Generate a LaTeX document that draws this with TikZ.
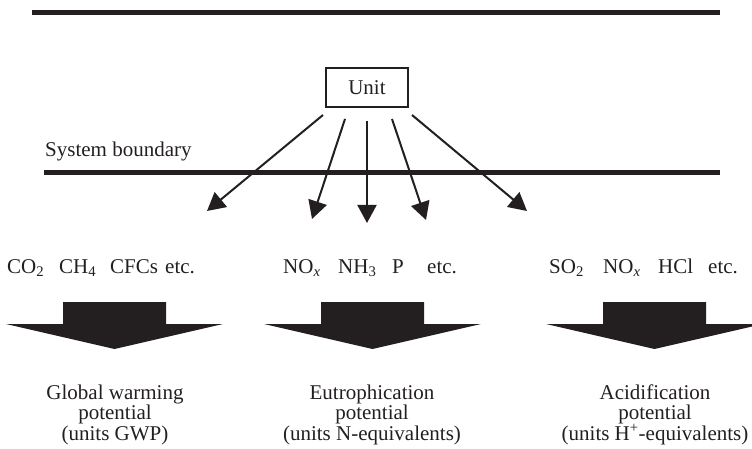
\documentclass[tikz,border=0pt]{standalone}
\usepackage{fontspec}
\setmainfont{Liberation Serif}
\usetikzlibrary{arrows.meta}
\definecolor{ink}{RGB}{35,31,32}
\begin{document}
\begin{tikzpicture}[x=1pt,y=-1pt,
  txt/.style={text=ink, inner sep=0pt, font=\fontsize{21}{20.5}\selectfont},
  chem/.style={txt, anchor=base west},
  impact/.style={txt, align=center, anchor=base},
  rule/.style={draw=ink, line width=5pt},
  flow/.style={draw=ink, line width=2pt, -{Triangle[length=18pt,width=19pt]}},
  unitbox/.style={draw=ink, line width=2pt, minimum width=82pt, minimum height=39pt, inner sep=0pt, txt},
  bigarrow/.pic={
    \fill[ink] (-51.5,302) -- (51.5,302) -- (51.5,324) -- (108.5,324)
      -- (0,349) -- (-108.5,324) -- (-51.5,324) -- cycle;
  }]
\clip (0,0) rectangle (752,449);

% outer frame line and system boundary
\coordinate (topL) at (32,12.5);
\coordinate (topR) at (720,12.5);
\draw[rule] (topL) -- (topR);
\coordinate (sbL) at (44,172.5);
\coordinate (sbR) at (720,172.5);
\draw[rule] (sbL) -- (sbR);
\node[txt, anchor=base west] (sblabel) at (45,157) {System boundary};

% the unit process
\node[unitbox] (unit) at (367,87.5) {Unit};

% emission arrows
\coordinate (t1) at (207,211);
\coordinate (t2) at (312,219);
\coordinate (t3) at (367,223);
\coordinate (t4) at (426,220);
\coordinate (t5) at (527,211);
\draw[flow] ([shift={(-44,7)}]unit.south) -- (t1);
\draw[flow] ([shift={(-22,11)}]unit.south) -- (t2);
\draw[flow] ([shift={(0,13)}]unit.south) -- (t3);
\draw[flow] ([shift={(25,11)}]unit.south) -- (t4);
\draw[flow] ([shift={(45,7)}]unit.south) -- (t5);

% emitted substances
\node[chem] (co2) at (7,273) {CO\textsubscript{2}};
\node[chem] (ch4) at (59,273) {CH\textsubscript{4}};
\node[chem] (cfc) at (110,273) {CFCs};
\node[chem] (etcA) at (165,273) {etc.};
\node[chem] (noxA) at (283,273) {NO\textsubscript{\textit{x}}};
\node[chem] (nh3) at (338,273) {NH\textsubscript{3}};
\node[chem] (p) at (392,273) {P};
\node[chem] (etcB) at (427,273) {etc.};
\node[chem] (so2) at (549,273) {SO\textsubscript{2}};
\node[chem] (noxB) at (603,273) {NO\textsubscript{\textit{x}}};
\node[chem] (hcl) at (658,273) {HCl};
\node[chem] (etcC) at (708,273) {etc.};

% aggregation arrows
\pic at (114.5,0) {bigarrow};
\pic at (372.5,0) {bigarrow};
\pic at (654.5,0) {bigarrow};

% impact categories (base anchor sits on the last line)
\node[impact] (gwp) at (115,440) {Global warming\\potential\\(units GWP)};
\node[impact] (eut) at (372,440) {Eutrophication\\potential\\(units N-equivalents)};
\node[impact] (acid) at (655,440) {Acidification\\potential\\(units H\textsuperscript{+}-equivalents)};
\end{tikzpicture}
\end{document}
